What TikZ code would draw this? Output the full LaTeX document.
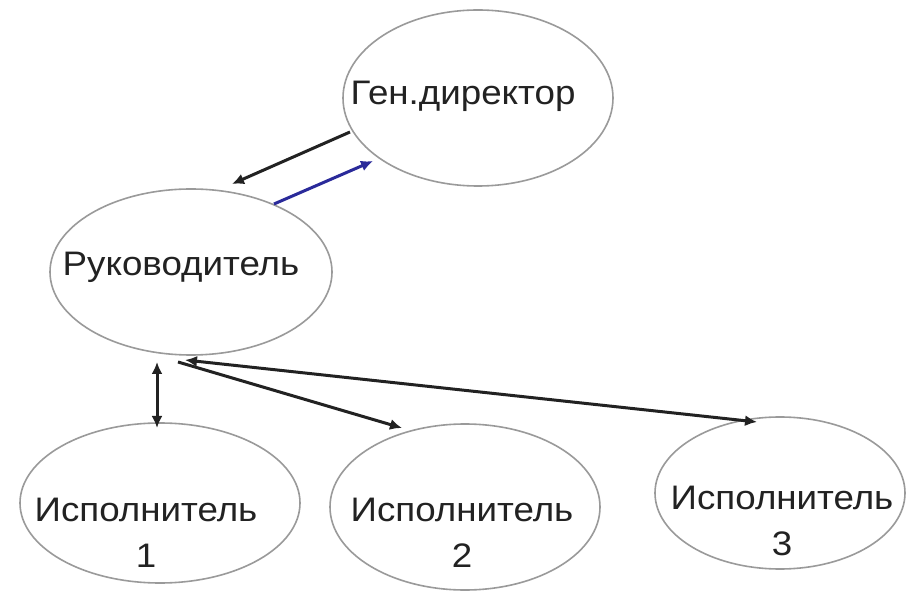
\documentclass[tikz,border=0pt]{standalone}
\usepackage{fontspec}
\setmainfont{Liberation Sans}[FakeStretch=1.08]
\usetikzlibrary{shapes.geometric,arrows.meta}
\definecolor{ell}{HTML}{9A9A9A}
\definecolor{ink}{HTML}{222222}
\definecolor{bl}{HTML}{2A2A9A}
\begin{document}
\begin{tikzpicture}[x=1pt,y=1pt,
  oval/.style={ellipse,draw=ell,line width=1.6pt,inner sep=0pt},
  lbl/.style={font=\fontsize{34}{46}\selectfont,text=ink,inner sep=0pt,align=center},
  conn/.style={draw=ink,line width=3pt,-{Latex[length=12pt,width=11pt]}},
  conn2/.style={draw=ink,line width=3pt,{Latex[length=12pt,width=11pt]}-{Latex[length=12pt,width=11pt]}}]
\useasboundingbox[fill=white] (0,0) rectangle (913,603);
\node[oval,minimum width=270pt,minimum height=176pt] (gd) at (478,505) {};
\node[oval,minimum width=282pt,minimum height=166pt] (ruk) at (191,331) {};
\node[oval,minimum width=280pt,minimum height=160pt] (i1) at (160,100) {};
\node[oval,minimum width=270pt,minimum height=166pt] (i2) at (465,96) {};
\node[oval,minimum width=250pt,minimum height=152pt] (i3) at (780,110) {};
\node[lbl,anchor=base] (tgd) at (463,498) {Ген.директор};
\node[lbl,anchor=base] (truk) at (181,327) {Руководитель};
\node[lbl] (ti1) at (146,70) {Исполнитель\\1};
\node[lbl] (ti2) at (462,70) {Исполнитель\\2};
\node[lbl] (ti3) at (782,82) {Исполнитель\\3};
\coordinate (gdA) at (350,471);
\coordinate (rukA) at (232,419);
\coordinate (rukB) at (274,399);
\coordinate (gdB) at (373,442);
\coordinate (rukC) at (157,241);
\coordinate (i1A) at (157,175);
\coordinate (rukD) at (178,241);
\coordinate (i2A) at (402,175);
\coordinate (rukE) at (185,243);
\coordinate (i3A) at (757,181);
\draw[conn] (gdA) -- (rukA);
\draw[conn,draw=bl] (rukB) -- (gdB);
\draw[conn2] (rukC) -- (i1A);
\draw[conn] (rukD) -- (i2A);
\draw[conn2] (rukE) -- (i3A);
\end{tikzpicture}
\end{document}
